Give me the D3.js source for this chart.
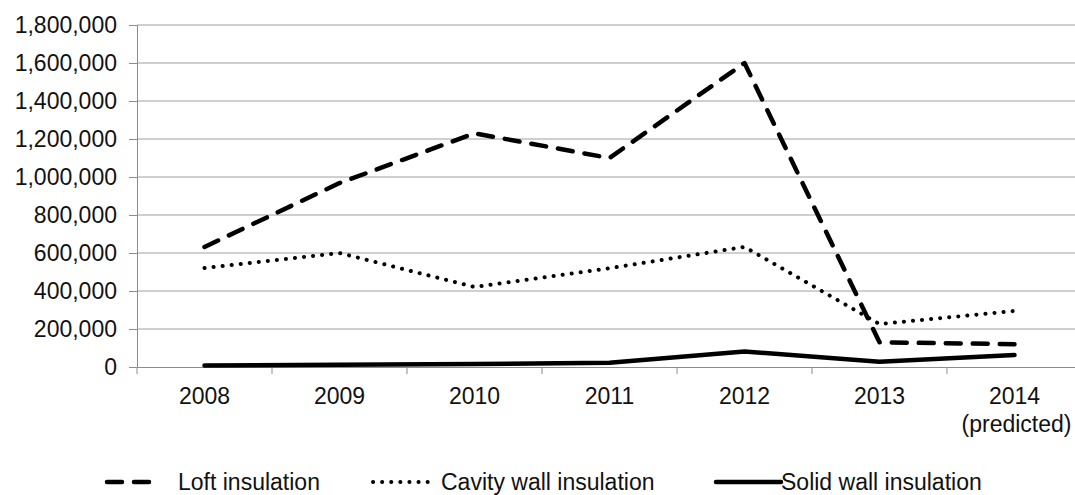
<!DOCTYPE html>
<html>
<head>
<meta charset="utf-8">
<script src="https://cdn.jsdelivr.net/npm/d3@7"></script>
<style>
  body { margin: 0; background: #fff; }
  svg text { font-family: "Liberation Sans", Arial, sans-serif; fill: #111; }
</style>
</head>
<body>
<div id="chart"></div>
<script>
// Chart data
const years = ["2008", "2009", "2010", "2011", "2012", "2013", "2014"];
const loft = [632000, 968000, 1230000, 1100000, 1600000, 130000, 120000];
const cavity = [521000, 600000, 421000, 520000, 632000, 226000, 295000];
const solid = [8000, 12000, 16000, 22000, 82000, 28000, 63000];
const yTicks = [0, 200000, 400000, 600000, 800000, 1000000, 1200000, 1400000, 1600000, 1800000];
const seriesNames = ["Loft insulation", "Cavity wall insulation", "Solid wall insulation"];

const width = 1075, height = 495;
const plotLeft = 137, plotRight = 1082, plotTop = 25, plotBottom = 367;
const fontSize = 23;

const svg = d3.select("#chart").append("svg")
  .attr("width", width)
  .attr("height", height);

const x = d3.scaleBand().domain(years).range([plotLeft, plotRight]);
const y = d3.scaleLinear().domain([0, 1800000]).range([plotBottom, plotTop]);

// Gridlines
svg.append("g")
  .selectAll("line")
  .data(yTicks.filter(d => d > 0))
  .join("line")
  .attr("x1", plotLeft).attr("x2", plotRight)
  .attr("y1", d => y(d)).attr("y2", d => y(d))
  .attr("stroke", "#a0a0a0").attr("stroke-width", 1);

// Y axis
const yAxis = svg.append("g")
  .attr("transform", `translate(${plotLeft},0)`)
  .call(d3.axisLeft(y).tickValues(yTicks).tickSize(8).tickPadding(12)
    .tickFormat(d3.format(",")));
yAxis.select(".domain").attr("stroke", "#8c8c8c");
yAxis.selectAll(".tick line").attr("stroke", "#8c8c8c");
yAxis.selectAll("text").attr("font-size", fontSize).attr("fill", "#111");

// X axis
const xAxis = svg.append("g")
  .attr("transform", `translate(0,${plotBottom})`)
  .call(d3.axisBottom(x).tickSize(0).tickPadding(21));
xAxis.select(".domain").attr("stroke", "#8c8c8c");
xAxis.selectAll("text").attr("font-size", fontSize).attr("fill", "#111");
xAxis.selectAll(".tick")
  .filter(d => d === "2014")
  .append("text")
  .attr("y", 65).attr("x", 2)
  .attr("font-size", fontSize).attr("fill", "#111")
  .attr("text-anchor", "middle")
  .text("(predicted)");

// tick marks between categories
svg.append("g")
  .selectAll("line")
  .data(years.concat(["end"]))
  .join("line")
  .attr("x1", (d, i) => plotLeft + x.step() * i)
  .attr("x2", (d, i) => plotLeft + x.step() * i)
  .attr("y1", plotBottom).attr("y2", plotBottom + 7)
  .attr("stroke", "#8c8c8c");

const line = d3.line()
  .x((d, i) => x(years[i]) + x.bandwidth() / 2)
  .y(d => y(d));

const styles = [
  { data: loft, width: 4.5, dash: "15,12", cap: "round" },
  { data: cavity, width: 4, dash: "0.1,9", cap: "round" },
  { data: solid, width: 4.5, dash: null, cap: "round" }
];

styles.forEach(s => {
  svg.append("path")
    .datum(s.data)
    .attr("fill", "none")
    .attr("stroke", "#000")
    .attr("stroke-width", s.width)
    .attr("stroke-linecap", s.cap)
    .attr("stroke-linejoin", "round")
    .attr("stroke-dasharray", s.dash)
    .attr("d", line);
});

// Legend
const legendY = 482;
const legendItems = [
  { x1: 107, x2: 158, tx: 178 },
  { x1: 373, x2: 431, tx: 441 },
  { x1: 716, x2: 781, tx: 781 }
];
legendItems.forEach((it, i) => {
  svg.append("line")
    .attr("x1", it.x1).attr("x2", it.x2)
    .attr("y1", legendY).attr("y2", legendY)
    .attr("stroke", "#000")
    .attr("stroke-width", styles[i].width)
    .attr("stroke-linecap", styles[i].cap)
    .attr("stroke-dasharray", styles[i].dash);
  svg.append("text")
    .attr("x", it.tx).attr("y", legendY)
    .attr("dy", "0.35em")
    .attr("font-size", fontSize)
    .text(seriesNames[i]);
});
</script>
</body>
</html>
